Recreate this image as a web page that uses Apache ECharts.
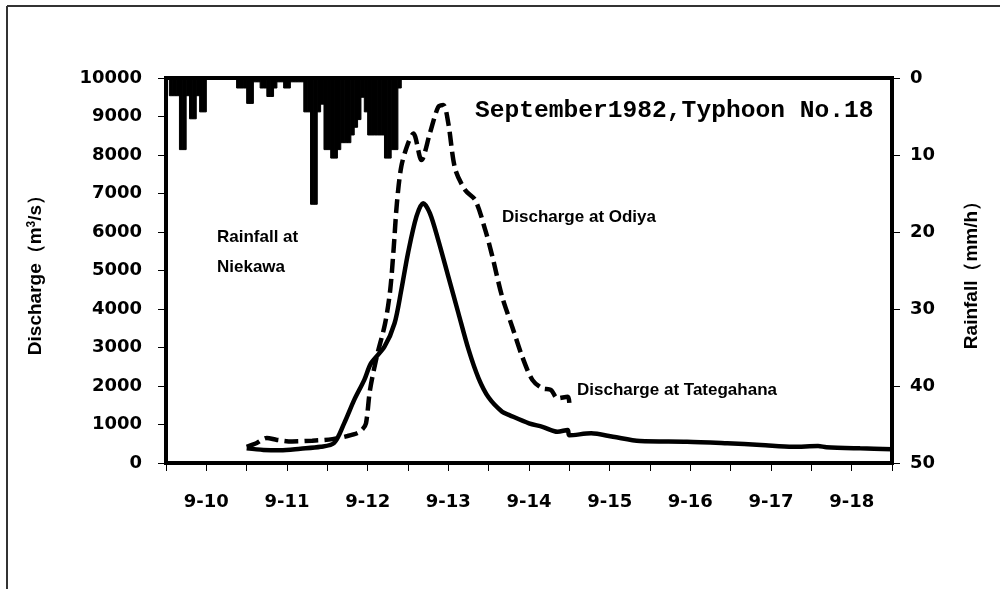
<!DOCTYPE html>
<html>
<head>
    <meta charset="utf-8">
    <title>September 1982 Typhoon No.18</title>
    <script src="https://cdn.jsdelivr.net/npm/echarts@6/dist/echarts.min.js"></script>
    <style>
        html, body { margin: 0; padding: 0; background: #fff; }
    </style>
</head>
<body>
<div id="main" style="width:1000px; height:589px;"></div>
<script>
    // x values are hours counted from 9-10 0:00
    var dayLabels = ['9-10', '9-11', '9-12', '9-13', '9-14', '9-15', '9-16', '9-17', '9-18'];

    // hourly rainfall at Niekawa (mm/h), first bar starts at hour -11
    var rainStartHour = -11;
    var rainfall = [
        2.3, 2.3, 2.3, 9.3, 9.3, 2.3, 5.3, 5.3, 2.3, 4.4, 4.4,
        0, 0, 0, 0, 0, 0, 0, 0, 0,
        1.3, 1.3, 1.3, 3.3, 3.3, 0.5, 0.5, 1.3, 1.3, 2.4, 2.4, 1.3, 0.5, 0.5, 1.3, 1.3,
        0.5, 0.5, 0.5, 0.5, 4.4, 4.4, 16.4, 16.4, 4.4, 3.4, 9.3, 9.3, 10.4, 10.4, 9.3,
        8.4, 8.4, 8.4, 7.4, 6.4, 5.4, 2.5, 4.4, 7.4, 7.4, 7.4, 7.4, 7.4, 10.4, 10.4,
        9.3, 9.3, 1.3
    ];

    // discharge at Tategahana (solid)
    var tategHours = [12, 17, 22, 28, 34, 38, 41, 44, 47, 49, 53, 56, 58, 60, 62.5, 64.5,
        66.5, 69, 72, 75, 78, 81, 84, 88, 90, 96, 100, 104.5, 107.5, 108, 114.5, 121,
        129, 143, 155, 165, 174.5, 182, 184.5, 194.5, 204];
    var tategFlow = [380, 340, 330, 370, 420, 520, 1030, 1640, 2160, 2590, 3020, 3630, 4490, 5450, 6400, 6750,
        6490, 5790, 4840, 3890, 2950, 2200, 1700, 1330, 1250, 1030, 940, 810, 860, 720, 770, 680,
        570, 550, 510, 470, 420, 440, 410, 380, 360];

    // discharge at Odiya (dashed)
    var odiyaHours = [12, 15, 18, 21, 25.5, 31.5, 37.5, 42, 45, 46.5, 47.5, 48.7, 50.7, 53.2, 54.7, 55.7,
        56.7, 58, 60, 61.6, 64, 66.5, 69, 70.5, 72, 74, 77, 80, 83, 85, 88, 91, 94, 97,
        100, 102.5, 104.5, 107.5, 108];
    var odiyaFlow = [420, 520, 650, 600, 560, 580, 620, 700, 780, 880, 1030, 1900, 2760, 3630, 4490, 5530,
        6750, 7700, 8300, 8560, 7870, 8560, 9250, 9300, 8820, 7650, 7090, 6830, 6050, 5400, 4320, 3540, 2760, 2160,
        1940, 1900, 1680, 1720, 1560];

    var rainData = rainfall.map(function (r, i) { return [rainStartHour + i, r]; });
    var tategData = tategHours.map(function (h, i) { return [h, tategFlow[i]]; });
    var odiyaData = odiyaHours.map(function (h, i) { return [h, odiyaFlow[i]]; });

    var labelFont = { color: '#000', fontFamily: 'DejaVu Sans', fontWeight: 'bold', fontSize: 18 };
    var nameFont = { color: '#000', fontFamily: 'Liberation Sans', fontWeight: 'bold', fontSize: 19 };
    var noteFont = { fill: '#000', fontFamily: 'Liberation Sans', fontWeight: 'bold', fontSize: 17 };

    var myChart = echarts.init(document.getElementById('main'));
    var option = {
        animation: false,
        backgroundColor: '#fff',
        grid: {
            left: 166, right: 108, top: 78, bottom: 126,
            show: true, borderColor: '#000', borderWidth: 4, backgroundColor: 'transparent'
        },
        xAxis: {
            type: 'value',
            min: -12, max: 204, interval: 12,
            splitLine: { show: false },
            axisLine: { onZero: false, lineStyle: { color: '#000', width: 4 } },
            axisTick: { length: 8, lineStyle: { color: '#000', width: 1 } },
            axisLabel: Object.assign({
                margin: 30,
                formatter: function (v) {
                    if (v >= 0 && v % 24 === 0) return dayLabels[v / 24] || '';
                    return '';
                }
            }, labelFont)
        },
        yAxis: [{
            type: 'value',
            min: 0, max: 10000, interval: 1000,
            name: '{n|Discharge（m}{s|3}{n|/s）}',
            nameLocation: 'middle', nameRotate: 90, nameGap: 120,
            nameTextStyle: {
                rich: {
                    n: nameFont,
                    s: { color: '#000', fontFamily: 'Liberation Sans', fontWeight: 'bold', fontSize: 12, verticalAlign: 'bottom', padding: [0, 0, 8, 0] }
                }
            },
            splitLine: { show: false },
            axisLine: { show: true, onZero: false, lineStyle: { color: '#000', width: 4 } },
            axisTick: { show: true, length: 8, lineStyle: { color: '#000', width: 1 } },
            axisLabel: Object.assign({ margin: 24, formatter: function (v) { return String(v); } }, labelFont)
        }, {
            type: 'value',
            inverse: true,
            min: 0, max: 50, interval: 10,
            position: 'right',
            name: 'Rainfall（mm/h）',
            nameLocation: 'middle', nameRotate: 90, nameGap: 70,
            nameTextStyle: nameFont,
            splitLine: { show: false },
            axisLine: { show: true, onZero: false, lineStyle: { color: '#000', width: 4 } },
            axisTick: { show: true, length: 8, lineStyle: { color: '#000', width: 1 } },
            axisLabel: Object.assign({ margin: 18 }, labelFont)
        }],
        graphic: [
            { type: 'line', shape: { x1: 7, y1: 6, x2: 1000, y2: 6 }, style: { stroke: '#333', lineWidth: 2 } },
            { type: 'line', shape: { x1: 7, y1: 6, x2: 7, y2: 589 }, style: { stroke: '#333', lineWidth: 2 } },
            { type: 'text', left: 475, top: 98, style: { text: 'September1982,Typhoon No.18', fill: '#000', fontFamily: 'Liberation Mono', fontWeight: 'bold', fontSize: 24.6 } },
            { type: 'text', left: 217, top: 229, style: Object.assign({ text: 'Rainfall at' }, noteFont) },
            { type: 'text', left: 217, top: 259, style: Object.assign({ text: 'Niekawa' }, noteFont) },
            { type: 'text', left: 502, top: 209, style: Object.assign({ text: 'Discharge at Odiya' }, noteFont) },
            { type: 'text', left: 577, top: 382, style: Object.assign({ text: 'Discharge at Tategahana' }, noteFont) }
        ],
        series: [{
            name: 'Rainfall at Niekawa',
            type: 'custom',
            yAxisIndex: 1,
            data: rainData,
            renderItem: function (params, api) {
                var h = api.value(0);
                var p0 = api.coord([h, 0]);
                var p1 = api.coord([h + 1, api.value(1)]);
                return {
                    type: 'rect',
                    shape: { x: p0[0], y: p0[1], width: p1[0] - p0[0], height: p1[1] - p0[1] },
                    style: { fill: '#000', stroke: '#000', lineWidth: 1 }
                };
            }
        }, {
            name: 'Discharge at Tategahana',
            type: 'line',
            data: tategData,
            showSymbol: false,
            smooth: 0.3,
            lineStyle: { color: '#000', width: 4.5 }
        }, {
            name: 'Discharge at Odiya',
            type: 'line',
            data: odiyaData,
            showSymbol: false,
            smooth: 0.3,
            lineStyle: { color: '#000', width: 4.5, type: [14, 6] }
        }]
    };
    myChart.setOption(option);
</script>
</body>
</html>
